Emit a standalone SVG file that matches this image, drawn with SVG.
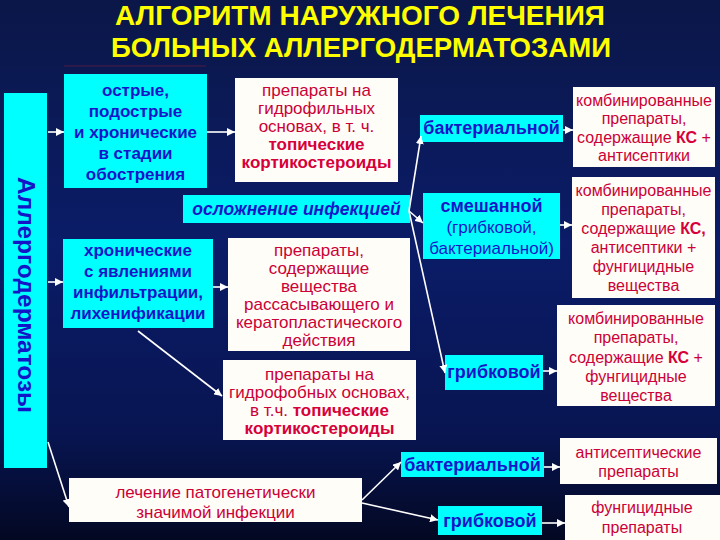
<svg xmlns="http://www.w3.org/2000/svg" width="720" height="540" viewBox="0 0 720 540">
<defs>
<linearGradient id="bg" x1="0" y1="0" x2="0" y2="1">
<stop offset="0" stop-color="#0b1748"/>
<stop offset="0.45" stop-color="#0b1c68"/>
<stop offset="0.8" stop-color="#081552"/>
<stop offset="1" stop-color="#030822"/>
</linearGradient>
<marker id="ah" markerUnits="userSpaceOnUse" markerWidth="8" markerHeight="8" refX="8" refY="4" orient="auto">
<path d="M0,0 L8,4 L0,8 z" fill="#ffffff"/>
</marker>
<style>
.cy{fill:#00ffff}
.wh{fill:#fffdf8}
.bt{font-family:"Liberation Sans",Arial,sans-serif;font-weight:bold;font-size:17px;fill:#1515c8;text-anchor:middle}
.bn{font-family:"Liberation Sans",Arial,sans-serif;font-size:17px;fill:#1515c8;text-anchor:middle}
.rt{font-family:"Liberation Sans",Arial,sans-serif;font-size:17px;fill:#cc0036;text-anchor:middle}
.rs{font-family:"Liberation Sans",Arial,sans-serif;font-size:16px;fill:#cc0036;text-anchor:middle}
.rb{font-weight:bold;fill:#d6003a}
.ttl{font-family:"Liberation Sans",Arial,sans-serif;font-weight:bold;font-size:28px;fill:#ffff00;text-anchor:middle}
.cn{stroke:#ffffff;stroke-width:1.6;fill:none;marker-end:url(#ah)}
</style>
</defs>
<rect x="0" y="0" width="720" height="540" fill="url(#bg)"/>

<g id="title">
<text class="ttl" x="360" y="25" textLength="490" lengthAdjust="spacingAndGlyphs">АЛГОРИТМ НАРУЖНОГО ЛЕЧЕНИЯ</text>
<text class="ttl" x="361" y="57" textLength="500" lengthAdjust="spacingAndGlyphs">БОЛЬНЫХ АЛЛЕРГОДЕРМАТОЗАМИ</text>
<line x1="64" y1="66" x2="206" y2="66" stroke="#3a1848" stroke-width="1.5"/>
</g>

<g id="bar">
<rect class="cy" x="4" y="93" width="43" height="375"/>
<text class="bt" transform="translate(25,295) rotate(90)" dy="7" style="font-size:23px" textLength="236" lengthAdjust="spacingAndGlyphs">Аллергодерматозы</text>
</g>

<g id="acute">
<rect class="cy" x="64" y="74" width="143" height="114"/>
<text class="bt" x="135.5" y="96">острые,</text>
<text class="bt" x="135.5" y="117">подострые</text>
<text class="bt" x="135.5" y="138">и хронические</text>
<text class="bt" x="135.5" y="159">в стадии</text>
<text class="bt" x="135.5" y="180">обострения</text>
</g>

<g id="hydrophilic">
<rect class="wh" x="235" y="78" width="163" height="104"/>
<text class="rt" x="316.5" y="96">препараты на</text>
<text class="rt" x="316.5" y="114">гидрофильных</text>
<text class="rt" x="316.5" y="132">основах, в т. ч.</text>
<text class="rt rb" x="316.5" y="150">топические</text>
<text class="rt rb" x="316.5" y="168">кортикостероиды</text>
</g>

<g id="infection">
<rect class="cy" x="183" y="195" width="227" height="28"/>
<text class="bt" x="296.5" y="215" style="font-style:italic;font-size:17.5px">осложнение инфекцией</text>
</g>

<g id="chronic">
<rect class="cy" x="63" y="239" width="150" height="89"/>
<text class="bt" x="138" y="256">хронические</text>
<text class="bt" x="138" y="277">с явлениями</text>
<text class="bt" x="138" y="298">инфильтрации,</text>
<text class="bt" x="138" y="319">лихенификации</text>
</g>

<g id="resorb">
<rect class="wh" x="228" y="238" width="182" height="113"/>
<text class="rt" x="319" y="256">препараты,</text>
<text class="rt" x="319" y="274">содержащие</text>
<text class="rt" x="319" y="292">вещества</text>
<text class="rt" x="319" y="310">рассасывающего и</text>
<text class="rt" x="319" y="328">кератопластического</text>
<text class="rt" x="319" y="346">действия</text>
</g>

<g id="hydrophobic">
<rect class="wh" x="223" y="360" width="193" height="80"/>
<text class="rt" x="319.5" y="380">препараты на</text>
<text class="rt" x="319.5" y="398">гидрофобных основах,</text>
<text class="rt" x="319.5" y="416">в т.ч. <tspan class="rb">топические</tspan></text>
<text class="rt rb" x="319.5" y="434">кортикостероиды</text>
</g>

<g id="pathogen">
<rect class="wh" x="69" y="478" width="293" height="44"/>
<text class="rt" x="215.5" y="498">лечение патогенетически</text>
<text class="rt" x="215.5" y="518">значимой инфекции</text>
</g>

<g id="bact1">
<rect class="cy" x="420" y="115" width="143" height="27"/>
<text class="bt" x="491.5" y="134" style="font-size:18px">бактериальной</text>
</g>

<g id="mixed">
<rect class="cy" x="423" y="193" width="137" height="66"/>
<text class="bt" x="491.5" y="212" style="font-size:18px">смешанной</text>
<text class="bn" x="491.5" y="233">(грибковой,</text>
<text class="bn" x="491.5" y="254">бактериальной)</text>
</g>

<g id="fung1">
<rect class="cy" x="445" y="355" width="98" height="35"/>
<text class="bt" x="494" y="378" style="font-size:18px">грибковой</text>
</g>

<g id="bact2">
<rect class="cy" x="401" y="452" width="143" height="25"/>
<text class="bt" x="472.5" y="471" style="font-size:18px">бактериальной</text>
</g>

<g id="fung2">
<rect class="cy" x="438" y="506" width="104" height="29"/>
<text class="bt" x="490" y="527" style="font-size:18px">грибковой</text>
</g>

<g id="combAntisept">
<rect class="wh" x="573" y="87" width="142" height="80"/>
<text class="rs" x="644" y="106">комбинированные</text>
<text class="rs" x="644" y="124">препараты,</text>
<text class="rs" x="644" y="143">содержащие <tspan class="rb">КС</tspan> +</text>
<text class="rs" x="644" y="161">антисептики</text>
</g>

<g id="combMixed">
<rect class="wh" x="572" y="177" width="143" height="121"/>
<text class="rs" x="643.5" y="196">комбинированные</text>
<text class="rs" x="643.5" y="215">препараты,</text>
<text class="rs" x="643.5" y="234">содержащие <tspan class="rb">КС,</tspan></text>
<text class="rs" x="643.5" y="253">антисептики +</text>
<text class="rs" x="643.5" y="272">фунгицидные</text>
<text class="rs" x="643.5" y="291">вещества</text>
</g>

<g id="combFung">
<rect class="wh" x="557" y="305" width="158" height="101"/>
<text class="rs" x="636" y="324">комбинированные</text>
<text class="rs" x="636" y="343">препараты,</text>
<text class="rs" x="636" y="363">содержащие <tspan class="rb">КС</tspan> +</text>
<text class="rs" x="636" y="382">фунгицидные</text>
<text class="rs" x="636" y="401">вещества</text>
</g>

<g id="antiseptic">
<rect class="wh" x="560" y="438" width="157" height="46"/>
<text class="rs" x="638.5" y="458">антисептические</text>
<text class="rs" x="638.5" y="477">препараты</text>
</g>

<g id="fungicide">
<rect class="wh" x="565" y="495" width="155" height="45"/>
<text class="rs" x="642" y="513">фунгицидные</text>
<text class="rs" x="642" y="533">препараты</text>
</g>

<g id="connectors">
<line class="cn" x1="48" y1="132" x2="64" y2="132"/>
<line class="cn" x1="207" y1="132" x2="235" y2="132"/>
<line class="cn" x1="48" y1="282" x2="63" y2="282"/>
<line class="cn" x1="213" y1="287" x2="228" y2="287"/>
<line class="cn" x1="138" y1="331" x2="222" y2="396"/>
<line class="cn" x1="48" y1="442" x2="69" y2="507"/>
<line class="cn" x1="409" y1="211" x2="421" y2="136"/>
<line class="cn" x1="409" y1="211" x2="423" y2="223"/>
<line class="cn" x1="409" y1="211" x2="445" y2="373"/>
<line class="cn" x1="563" y1="130" x2="573" y2="130"/>
<line class="cn" x1="560" y1="225" x2="572" y2="225"/>
<line class="cn" x1="543" y1="371" x2="557" y2="371"/>
<line class="cn" x1="362" y1="500" x2="401" y2="462"/>
<line class="cn" x1="362" y1="503" x2="438" y2="520"/>
<line class="cn" x1="544" y1="467" x2="560" y2="467"/>
<line class="cn" x1="542" y1="523" x2="565" y2="523"/>
</g>
</svg>
